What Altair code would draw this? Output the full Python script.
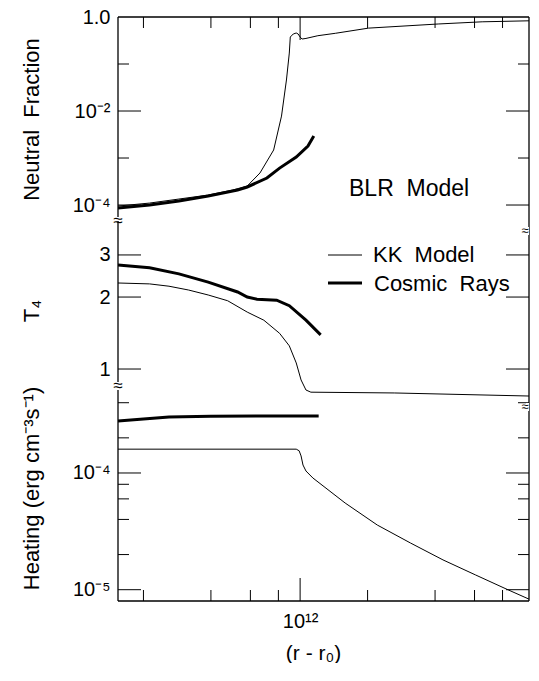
import altair as alt
import pandas as pd

FONT = "Liberation Sans"
NB = "\u00a0"

# ---------------- data (x = r - r0, in units of 1e12 cm) ----------------
# Neutral fraction
NF_KK_X = [0.154, 0.213, 0.288, 0.389, 0.50, 0.581, 0.662, 0.762, 0.826, 0.869,
           0.895, 0.904, 0.932, 0.961, 0.98, 1.0, 1.02, 1.062, 1.2, 1.436,
           2.02, 4.13, 6.49, 10.5]
NF_KK_Y = [9.5e-5, 1.10e-4, 1.34e-4, 1.63e-4, 2.08e-4, 2.54e-4, 4.8e-4, 1.48e-3, 7.8e-3, 0.0457,
           0.171, 0.375, 0.435, 0.457, 0.435, 0.375, 0.34, 0.35, 0.40, 0.45,
           0.58, 0.71, 0.79, 0.83]
NF_CR_X = [0.154, 0.213, 0.288, 0.389, 0.526, 0.581, 0.711, 0.81, 0.961, 1.084, 1.151]
NF_CR_Y = [8.6e-5, 1.0e-4, 1.22e-4, 1.55e-4, 2.08e-4, 2.42e-4, 3.75e-4, 6.1e-4, 1.05e-3, 1.80e-3, 2.94e-3]

# Temperature T4
T4_KK_X = [0.154, 0.213, 0.26, 0.318, 0.389, 0.475, 0.581, 0.689, 0.81, 0.895,
           0.961, 1.01, 1.062, 1.117, 2.63, 10.5]
T4_KK_Y = [2.29, 2.27, 2.22, 2.14, 2.04, 1.93, 1.73, 1.60, 1.41, 1.25,
           1.06, 0.90, 0.817, 0.80, 0.794, 0.771]
T4_CR_X = [0.154, 0.213, 0.288, 0.389, 0.526, 0.581, 0.642, 0.786, 0.895, 1.062, 1.235]
T4_CR_Y = [2.72, 2.65, 2.50, 2.31, 2.10, 2.0, 1.96, 1.94, 1.84, 1.60, 1.39]

# Heating
HT_KK_X = [0.154, 0.961, 0.99, 1.01, 1.03, 1.062, 1.14, 1.588, 2.21, 3.11, 4.34, 6.05, 8.51, 10.5]
HT_KK_Y = [1.6e-4, 1.6e-4, 1.55e-4, 1.40e-4, 1.17e-4, 1.04e-4, 9.06e-5, 5.53e-5, 3.58e-5,
           2.51e-5, 1.80e-5, 1.34e-5, 9.93e-6, 8.3e-6]
HT_CR_X = [0.154, 0.2, 0.26, 0.4, 1.21]
HT_CR_Y = [2.79e-4, 2.90e-4, 3.02e-4, 3.07e-4, 3.08e-4]

# tick values
X_MAJOR = [1e12]
X_MINOR = [2e11, 4e11, 6e11, 8e11, 2e12, 4e12, 6e12, 8e12]
NF_MAJOR = [1e-2, 1e-4]
NF_MINOR = [1e-1, 1e-3]
T4_MAJOR = [1, 2, 3]
HT_MAJOR = [1e-4, 1e-5]
HT_MINOR = [4e-4, 2e-4, 8e-5, 6e-5, 4e-5, 2e-5]

# ---------------- layout ----------------
W = 411
H_TOP, H_MID, H_BOT = 204, 179, 201
XDOM = [1.54e11, 1.05e13]
NF_DOM = [4.57e-5, 1.0]
T4_DOM = [0.742, 4.16]
HT_DOM = [8.0e-6, 4.22e-4]
MAJ, MIN = 23, 11
DUMMY = pd.DataFrame({"a": [0]})


def make_panel(series, ydom, height, ymaj, ymin, yaxis, xaxis=None,
               top=False, bottom=False, extras=()):
    xsc = alt.Scale(type="log", domain=XDOM, nice=False)
    ysc = alt.Scale(type="log", domain=ydom, nice=False)

    def xe():
        return alt.X("x:Q", scale=xsc, axis=xaxis)

    def ye():
        return alt.Y("y:Q", scale=ysc, axis=yaxis)

    layers = []
    for xs, ys, w in series:
        df = pd.DataFrame({"x": [v * 1e12 for v in xs], "y": ys})
        layers.append(alt.Chart(df).mark_line(color="black", strokeWidth=w, clip=True)
                      .encode(x=xe(), y=ye()))
    # inward ticks on left and right edges
    for vals, L in ((ymaj, MAJ), (ymin, MIN)):
        if not vals:
            continue
        df = pd.DataFrame({"y": vals})
        for xc in (L / 2, W - L / 2):
            layers.append(alt.Chart(df).mark_tick(color="black", orient="horizontal",
                                                  thickness=1, size=L, opacity=1)
                          .encode(y=ye(), x=alt.value(xc)))
    # inward ticks on top / bottom edges
    for flag, y0, sgn in ((top, 0, 1), (bottom, height, -1)):
        if not flag:
            continue
        for vals, L in ((X_MAJOR, MAJ), (X_MINOR, MIN)):
            df = pd.DataFrame({"x": vals})
            layers.append(alt.Chart(df).mark_tick(color="black", orient="vertical",
                                                  thickness=1, size=L, opacity=1)
                          .encode(x=xe(), y=alt.value(y0 + sgn * L / 2)))
        layers.append(alt.Chart(DUMMY).mark_rule(color="black", strokeWidth=1.3)
                      .encode(x=alt.value(0), x2=alt.value(W), y=alt.value(y0)))
    # frame sides
    for xv in (0, W):
        layers.append(alt.Chart(DUMMY).mark_rule(color="black", strokeWidth=1.3)
                      .encode(x=alt.value(xv), y=alt.value(0), y2=alt.value(height)))
    layers.extend(extras)
    return alt.layer(*layers).properties(width=W, height=height)


def brk(xp, yp, right=False):
    xt = xp - 4 if right else xp
    x2 = xp if right else xp + 3
    return [
        alt.Chart(DUMMY).mark_rect(color="white").encode(
            x=alt.value(xp - 3), x2=alt.value(x2), y=alt.value(yp - 4), y2=alt.value(yp + 4)),
        alt.Chart(DUMMY).mark_text(text="\u2248", fontSize=13 if right else 17, font=FONT,
                                   color="black", align="center", baseline="middle").encode(
            x=alt.value(xt), y=alt.value(yp)),
    ]


def label(txt, xp, yp, size=22):
    return alt.Chart(DUMMY).mark_text(text=txt, fontSize=size, font=FONT, color="black",
                                      align="left", baseline="middle").encode(
        x=alt.value(xp), y=alt.value(yp))


# invisible anchor that fixes the chart's top-left bound
anchor = alt.Chart(DUMMY).mark_rule(strokeWidth=0.01, opacity=0).encode(
    x=alt.value(-110), y=alt.value(-11), y2=alt.value(-10))

ax_common = dict(labelPadding=8, labelOverlap=False, labelFlush=False,
                 titleBaseline="middle", titleX=-87, titleAlign="center")

nf_axis = alt.Axis(values=[1, 1e-2, 1e-4],
                   labelExpr="datum.value > 0.5 ? '1.0' : (datum.value > 0.005 ? '10\u207b\u00b2' : '10\u207b\u2074')",
                   title="Neutral" + NB + " Fraction", **ax_common)
t4_axis = alt.Axis(values=[1, 2, 3], labelExpr="format(datum.value, 'd')",
                   title="T\u2084", **ax_common)
ht_axis = alt.Axis(values=[1e-4, 1e-5],
                   labelExpr="datum.value > 5e-5 ? '10\u207b\u2074' : '10\u207b\u2075'",
                   title="Heating (erg cm\u207b\u00b3s\u207b\u00b9)",
                   titleY=88, **ax_common)
x_axis = alt.Axis(values=[1e12], labelExpr="'10\u00b9\u00b2'", labelPadding=10,
                  labelFlush=False, title="(r" + NB + "-" + NB + "r\u2080)",
                  titleX=195, titleY=52, titleBaseline="middle", titleAlign="center",
                  titleFontSize=21)

top = make_panel([(NF_KK_X, NF_KK_Y, 1.0), (NF_CR_X, NF_CR_Y, 3.0)], NF_DOM, H_TOP,
                 NF_MAJOR, NF_MINOR, nf_axis, top=True,
                 extras=[label("BLR" + NB + " Model", 231, 172, 23), anchor] + brk(0, H_TOP))

legend_layers = [
    alt.Chart(DUMMY).mark_rule(color="black", strokeWidth=1).encode(
        x=alt.value(210), x2=alt.value(244), y=alt.value(34)),
    alt.Chart(DUMMY).mark_rule(color="black", strokeWidth=3).encode(
        x=alt.value(210), x2=alt.value(244), y=alt.value(62)),
    label("KK" + NB + " Model", 255, 34),
    label("Cosmic" + NB + " Rays", 256, 63),
]
mid = make_panel([(T4_KK_X, T4_KK_Y, 1.0), (T4_CR_X, T4_CR_Y, 3.0)], T4_DOM, H_MID,
                 T4_MAJOR, [], t4_axis,
                 extras=legend_layers + brk(0, 165) + brk(W, 10, right=True))

bot = make_panel([(HT_KK_X, HT_KK_Y, 1.0), (HT_CR_X, HT_CR_Y, 3.0)], HT_DOM, H_BOT,
                 HT_MAJOR, HT_MINOR, ht_axis, xaxis=x_axis, bottom=True,
                 extras=brk(W, 7, right=True))

chart = alt.vconcat(top, mid, bot, spacing=0, bounds="flush").properties(
    padding={"left": 0, "top": -2, "right": 0, "bottom": 0}
).configure_view(stroke=None).configure_axis(
    labelFont=FONT, titleFont=FONT, labelFontSize=20, titleFontSize=22,
    titleFontWeight="normal", ticks=False, domain=False, grid=False,
    labelColor="black", titleColor="black"
)

chart.save("out.html", embed_options={"renderer": "svg", "actions": False})
